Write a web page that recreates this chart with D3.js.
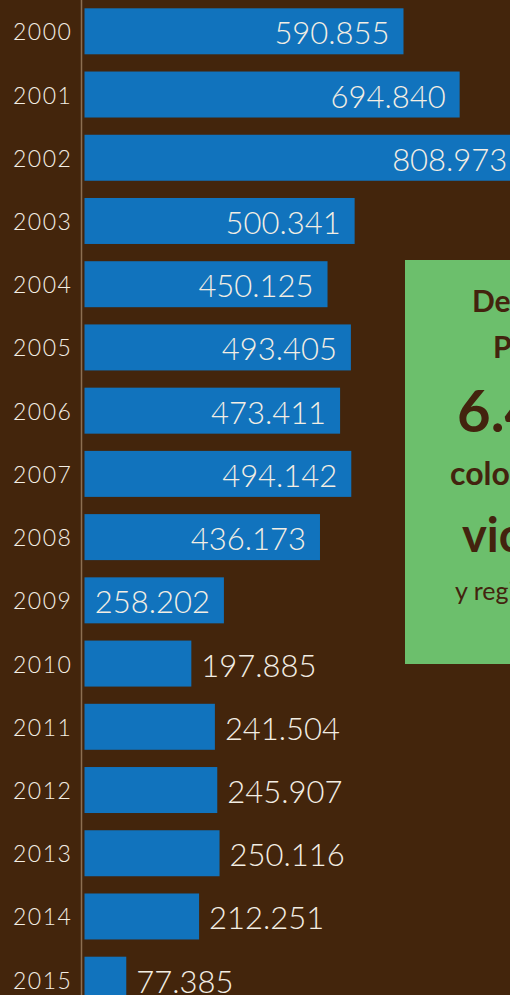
<!DOCTYPE html>
<html>
<head>
<meta charset="utf-8">
<script src="https://cdn.jsdelivr.net/npm/d3@7/dist/d3.min.js"></script>
<style>
  html, body { margin: 0; padding: 0; background: #43250c; overflow: hidden; }
  svg { display: block; }
</style>
</head>
<body>
<svg id="chart" width="510" height="995"></svg>
<script>
// ---- data ----
const years = ["2000","2001","2002","2003","2004","2005","2006","2007","2008","2009","2010","2011","2012","2013","2014","2015"];
const values = [590855, 694840, 808973, 500341, 450125, 493405, 473411, 494142, 436173, 258202, 197885, 241504, 245907, 250116, 212251, 77385];
const valueLabels = ["590.855","694.840","808.973","500.341","450.125","493.405","473.411","494.142","436.173","258.202","197.885","241.504","245.907","250.116","212.251","77.385"];
const boxLines = ["Desde 2000", "Por lo menos", "6.425.515", "colombianos", "victimas", "y registrados"];

const W = 510, H = 995;
const svg = d3.select("#chart");
const BG = "#43250c", BAR = "#1173bd", TXT = "#f3eee4", GREEN = "#6cbf6c", DARK = "#43230e";

svg.append("rect").attr("width", W).attr("height", H).attr("fill", BG);

const data = years.map((y, i) => ({ year: y, value: values[i], label: valueLabels[i] }));

const x = d3.scaleLinear().domain([0, 1000000]).range([84.5, 84.5 + 539.9]);
const y = d3.scaleBand().domain(years).range([8.3, 1002.7]).paddingInner(0.2725).paddingOuter(0);

// axis line
svg.append("line")
  .attr("x1", 81.5).attr("x2", 81.5).attr("y1", 0).attr("y2", H)
  .attr("stroke", "#8c6f52").attr("stroke-width", 1.5);

// bars
svg.selectAll("rect.bar").data(data).join("rect")
  .attr("class", "bar")
  .attr("x", x(0))
  .attr("y", d => y(d.year))
  .attr("width", d => x(d.value) - x(0))
  .attr("height", y.bandwidth())
  .attr("fill", BAR);

// year labels
svg.selectAll("text.year").data(data).join("text")
  .attr("class", "year")
  .attr("x", 13)
  .attr("y", d => y(d.year) + y.bandwidth() / 2 + 9)
  .attr("fill", TXT)
  .attr("font-family", "Lato, sans-serif")
  .attr("font-weight", 300)
  .attr("font-size", 23)
  .attr("letter-spacing", 1.5)
  .text(d => d.year);

// value labels
const inside = d => d.value > 255000;
svg.selectAll("text.val").data(data).join("text")
  .attr("class", "val")
  .attr("x", d => inside(d) ? x(d.value) - 14 : x(d.value) + 10)
  .attr("y", d => y(d.year) + y.bandwidth() / 2 + 13)
  .attr("text-anchor", d => inside(d) ? "end" : "start")
  .attr("fill", TXT)
  .attr("font-family", "Lato, sans-serif")
  .attr("font-weight", 300)
  .attr("font-size", 31)
  .text(d => d.label);

// green info box (cropped by the frame)
svg.append("rect")
  .attr("x", 405).attr("y", 260).attr("width", 300).attr("height", 404)
  .attr("fill", GREEN);

const boxStyle = [
  { x: 472, y: 312, size: 30, weight: 700 },
  { x: 493, y: 358, size: 30, weight: 700 },
  { x: 457, y: 432, size: 58, weight: 700 },
  { x: 450, y: 485, size: 32, weight: 700 },
  { x: 462, y: 552, size: 47, weight: 700 },
  { x: 455, y: 600, size: 25, weight: 400 }
];
svg.selectAll("text.box").data(boxLines).join("text")
  .attr("class", "box")
  .attr("x", (d, i) => boxStyle[i].x)
  .attr("y", (d, i) => boxStyle[i].y)
  .attr("fill", DARK)
  .attr("font-family", "Lato, sans-serif")
  .attr("font-size", (d, i) => boxStyle[i].size)
  .attr("font-weight", (d, i) => boxStyle[i].weight)
  .text(d => d);
</script>
</body>
</html>
